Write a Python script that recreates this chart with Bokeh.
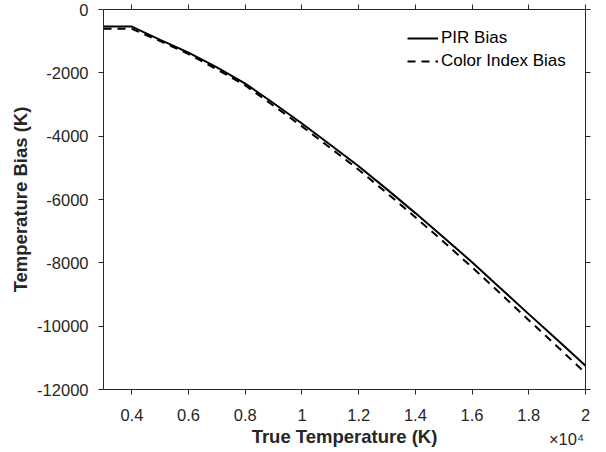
from bokeh.plotting import figure
from bokeh.models import (Range1d, LinearAxis, FixedTicker, Legend, LegendItem)
from bokeh.embed import file_html
from bokeh.resources import INLINE

# ---- data ----
temps = [3000, 4000, 5000, 6000, 7000, 8000, 9000, 10000, 11000, 12000,
         13000, 14000, 15000, 16000, 17000, 18000, 19000, 20000]
pir_bias = [-540, -540, -960, -1360, -1830, -2340, -2960, -3600, -4270, -4950,
            -5680, -6430, -7200, -7980, -8800, -9620, -10430, -11250]
ci_bias = [-610, -610, -1000, -1410, -1890, -2400, -3040, -3690, -4370, -5060,
           -5800, -6560, -7340, -8140, -8970, -9810, -10640, -11480]

x_ticks = [4000, 6000, 8000, 10000, 12000, 14000, 16000, 18000, 20000]
x_tick_labels = ["0.4", "0.6", "0.8", "1", "1.2", "1.4", "1.6", "1.8", "2"]
y_ticks = [0, -2000, -4000, -6000, -8000, -10000, -12000]
y_tick_labels = ["0", "-2000", "-4000", "-6000", "-8000", "-10000", "-12000"]
exponent_label = "×10⁴"
exponent_anchor = 19330

FONT = "Liberation Sans"
AX = "#262626"

p = figure(width=606, height=452, output_backend="svg", toolbar_location=None,
           x_range=Range1d(3000, 20000), y_range=Range1d(-12000, 0),
           min_border_left=103, min_border_right=21, min_border_top=9,
           min_border_bottom=63, x_axis_label="True Temperature (K)",
           y_axis_label="Temperature Bias (K)")
p.xgrid.visible = False
p.ygrid.visible = False
p.outline_line_color = None
p.background_fill_color = "white"
p.border_fill_color = "white"

def style(ax, ticks, labels=None):
    ax.ticker = FixedTicker(ticks=ticks)
    ax.axis_line_color = AX
    ax.axis_line_width = 1
    ax.major_tick_line_color = AX
    ax.major_tick_in = 0
    ax.major_tick_out = 5
    ax.minor_tick_line_color = None
    ax.major_label_text_font = FONT
    ax.major_label_text_color = AX
    if labels is not None:
        ax.major_label_overrides = {t: l for t, l in zip(ticks, labels)}
        ax.major_label_text_font_size = "16.5px"
    else:
        ax.major_label_overrides = {t: "" for t in ticks}
        ax.major_label_text_font_size = "1px"
        ax.major_label_standoff = 0

xa = p.xaxis[0]
ya = p.yaxis[0]
style(xa, x_ticks, x_tick_labels)
style(ya, y_ticks, y_tick_labels)
xa.major_label_standoff = 14
ya.major_label_standoff = 10
for ax in (xa, ya):
    ax.axis_label_text_font = FONT
    ax.axis_label_text_font_style = "bold"
    ax.axis_label_text_font_size = "18.5px"
    ax.axis_label_text_color = AX
xa.axis_label_standoff = 2
ya.axis_label_standoff = 3

top = LinearAxis()
right = LinearAxis()
style(top, x_ticks)
style(right, y_ticks)
p.add_layout(top, "above")
p.add_layout(right, "right")

# exponent "×10⁴" drawn as the single tick label of a line-less extra axis
xb = LinearAxis(ticker=FixedTicker(ticks=[exponent_anchor]),
                major_label_overrides={exponent_anchor: exponent_label},
                axis_line_color=None, major_tick_line_color=None,
                minor_tick_line_color=None, major_tick_in=0, major_tick_out=0,
                major_label_standoff=-20, major_label_text_font=FONT,
                major_label_text_font_size="16.5px", major_label_text_color=AX)
p.add_layout(xb, "below")

r1 = p.line(temps, pir_bias, line_color="black", line_width=2)
r2 = p.line(temps, ci_bias, line_color="black", line_width=2, line_dash="8 6")

legend = Legend(items=[LegendItem(label="PIR Bias", renderers=[r1]),
                       LegendItem(label="Color Index Bias", renderers=[r2])],
                location=(304, 318), margin=0, padding=10, spacing=3,
                glyph_width=31, glyph_height=20, label_height=20,
                label_standoff=3, label_text_font=FONT,
                label_text_font_size="17px", label_text_color="black",
                border_line_color=None, background_fill_alpha=0)
p.add_layout(legend, "center")

open("out.html", "w").write(file_html(p, INLINE))
